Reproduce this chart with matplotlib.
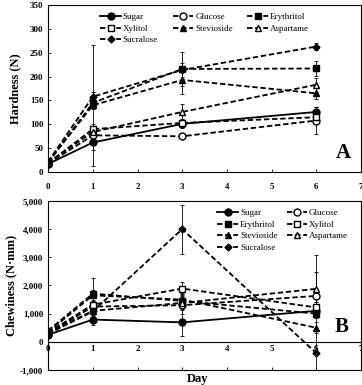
import numpy as np
import matplotlib
matplotlib.use("Agg")
import matplotlib.pyplot as plt

plt.rcParams["font.family"] = ["Liberation Serif", "DejaVu Serif"]

days = [0, 1, 3, 6]
names = ["Sugar", "Glucose", "Erythritol", "Xylitol", "Stevioside", "Aspartame", "Sucralose"]

# hardness (N)
hard = {
    "Sugar":      [17, 62, 101, 126],
    "Glucose":    [18, 77, 75, 108],
    "Erythritol": [20, 145, 216, 217],
    "Xylitol":    [19, 90, 103, 115],
    "Stevioside": [21, 140, 193, 165],
    "Aspartame":  [20, 84, 126, 183],
    "Sucralose":  [22, 158, 214, 263],
}
hard_err = {
    "Sugar":      [3, 15, 8, 10],
    "Glucose":    [3, 10, 6, 28],
    "Erythritol": [3, 12, 35, 15],
    "Xylitol":    [3, 10, 8, 10],
    "Stevioside": [3, 127, 30, 12],
    "Aspartame":  [3, 10, 17, 15],
    "Sucralose":  [3, 10, 15, 8],
}

# chewiness (N*mm)
chew = {
    "Sugar":      [250, 790, 690, 1100],
    "Glucose":    [300, 1250, 1300, 1630],
    "Erythritol": [400, 1710, 1450, 1000],
    "Xylitol":    [330, 1320, 1890, 1220],
    "Stevioside": [350, 1650, 1500, 500],
    "Aspartame":  [320, 1100, 1380, 1880],
    "Sucralose":  [280, 1080, 4000, -400],
}
chew_err = {
    "Sugar":      [50, 200, 480, 150],
    "Glucose":    [50, 150, 300, 200],
    "Erythritol": [50, 560, 250, 150],
    "Xylitol":    [50, 150, 240, 200],
    "Stevioside": [50, 200, 250, 200],
    "Aspartame":  [50, 150, 250, 600],
    "Sucralose":  [50, 150, 870, 3480],
}

style = {
    "Sugar":      dict(marker="o", mfc="k", ls="-"),
    "Glucose":    dict(marker="o", mfc="white", ls="--"),
    "Erythritol": dict(marker="s", mfc="k", ls="--"),
    "Xylitol":    dict(marker="s", mfc="white", ls="--"),
    "Stevioside": dict(marker="^", mfc="k", ls="--"),
    "Aspartame":  dict(marker="^", mfc="white", ls="--"),
    "Sucralose":  dict(marker="D", mfc="k", ls="--", ms=3.5),
}


def draw(ax, data, err):
    hs = {}
    for n in names:
        st = dict(style[n])
        ms = st.pop("ms", 5)
        ls = st.pop("ls")
        h = ax.errorbar(days, data[n], yerr=err[n], color="k", mec="k",
                        ms=ms, lw=1.3, elinewidth=0.6, capsize=1.5,
                        capthick=0.6, linestyle=ls,
                        dashes=(3, 1.5) if ls == "--" else (None, None),
                        label=n, **st)
        hs[n] = h[0]  # line only, no error bar in legend
    return hs


fig = plt.figure(figsize=(3.62, 3.85), dpi=100)

# --- panel A ---
ax1 = fig.add_axes([0.133, 0.553, 0.864, 0.434])
hs = draw(ax1, hard, hard_err)
ax1.set_xlim(0, 7)
ax1.set_ylim(0, 350)
ax1.set_xticks(range(8))
ax1.set_yticks(range(0, 351, 50))
ax1.tick_params(direction="in", labelsize=6.5, length=2, width=0.6)
ax1.tick_params(axis="x", pad=8)
for lab in ax1.get_xticklabels() + ax1.get_yticklabels():
    lab.set_fontweight("bold")
ax1.set_ylabel("Hardness (N)", fontsize=9, fontweight="bold", labelpad=6)
ax1.text(6.78, 30, "A", fontsize=15, fontweight="bold", ha="right")
order1 = ["Sugar", "Xylitol", "Sucralose", "Glucose", "Stevioside", "Erythritol", "Aspartame"]
ax1.legend([hs[n] for n in order1], order1, ncol=3, loc="upper center",
           bbox_to_anchor=(0.5, 1.0), frameon=False, fontsize=6.5,
           handlelength=2.3, handletextpad=0.2, columnspacing=1.6,
           labelspacing=0.35, borderaxespad=0.5)
for sp in ax1.spines.values():
    sp.set_linewidth(0.8)

# --- panel B ---
ax2 = fig.add_axes([0.133, 0.039, 0.864, 0.439])
hs2 = draw(ax2, chew, chew_err)
ax2.set_xlim(0, 7)
ax2.set_ylim(-1000, 5000)
ax2.set_xticks(range(8))
ax2.set_yticks(range(-1000, 5001, 1000))
ax2.set_yticklabels([f"{v:,}" for v in range(-1000, 5001, 1000)])
ax2.axhline(0, color="k", lw=0.8)
ax2.spines["bottom"].set_linewidth(0.8)
ax2.tick_params(direction="in", labelsize=6.5, length=2, width=0.6)
ax2.tick_params(axis="x", pad=-18)
for lab in ax2.get_xticklabels() + ax2.get_yticklabels():
    lab.set_fontweight("bold")
ax2.set_ylabel("Chewiness (N\u00b7mm)", fontsize=9, fontweight="bold", labelpad=2)
ax2.text(6.72, 350, "B", fontsize=15, fontweight="bold", ha="right")
order2 = ["Sugar", "Erythritol", "Stevioside", "Sucralose", "Glucose", "Xylitol", "Aspartame"]
ax2.legend([hs2[n] for n in order2], order2, ncol=2, loc="upper right",
           bbox_to_anchor=(0.985, 1.0), frameon=False, fontsize=6.5,
           handlelength=2.3, handletextpad=0.2, columnspacing=1.0,
           labelspacing=0.35, borderaxespad=0.5)
for sp in ax2.spines.values():
    sp.set_linewidth(0.8)

fig.text(0.545, 0.0, "Day", fontsize=9, fontweight="bold", ha="center", va="bottom")

fig.savefig("out.png", dpi=100)
